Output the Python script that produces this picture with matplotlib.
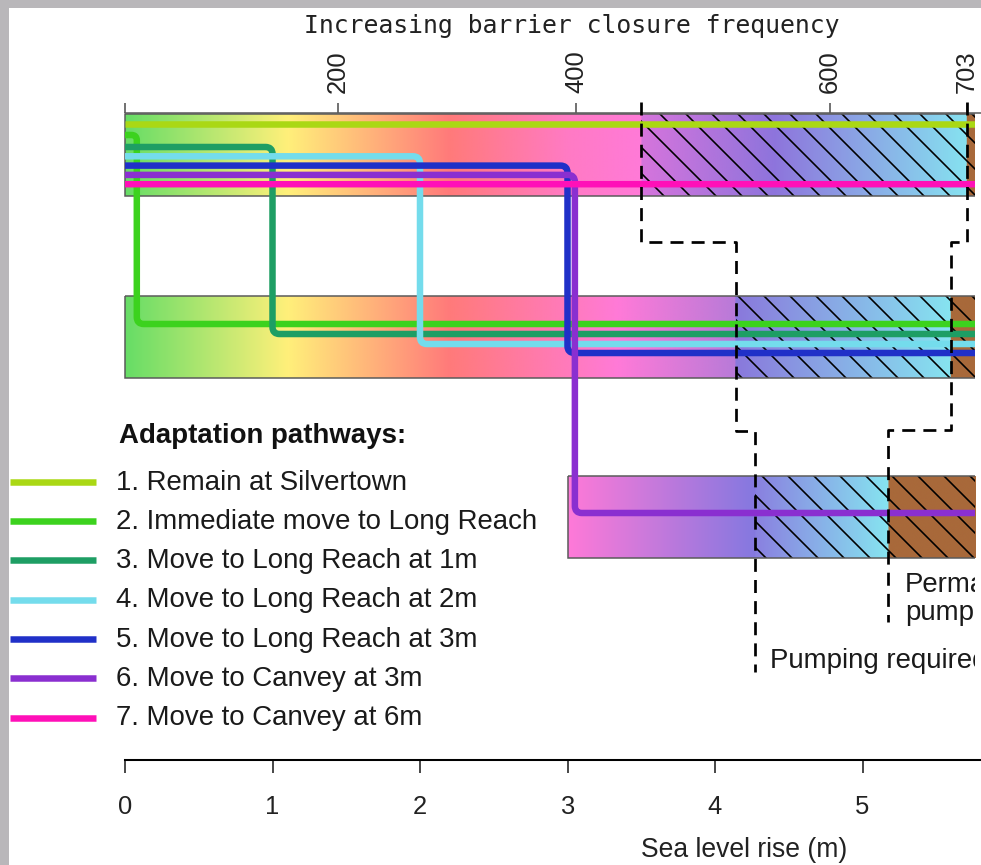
import numpy as np
import matplotlib
matplotlib.use('Agg')
import matplotlib.pyplot as plt
from matplotlib.patches import Rectangle, PathPatch
from matplotlib.path import Path
from matplotlib.colors import to_rgb

# ---------------- data ----------------
pathway_labels = ['1. Remain at Silvertown',
                  '2. Immediate move to Long Reach',
                  '3. Move to Long Reach at 1m',
                  '4. Move to Long Reach at 2m',
                  '5. Move to Long Reach at 3m',
                  '6. Move to Canvey at 3m',
                  '7. Move to Canvey at 6m']
pathway_colors = ['#aad814', '#3cd21e', '#1e9e64', '#74dcec',
                  '#2030c8', '#8a2fd0', '#ff10b8']
switch_level = [np.nan, 0.08, 1.0, 2.0, 3.0, 3.05, 6.0]   # sea level rise (m) of move
dest_box = [0, 1, 1, 1, 1, 2, 2]                            # 0 Silvertown, 1 Long Reach, 2 Canvey

box_names = ['Silvertown', 'Long Reach', 'Canvey']
box_start = [0.0, 0.0, 3.0]
pumping_start = [3.5, 4.14, 4.27]      # pumping required from (m)
permanent_start = [5.71, 5.60, 5.17]   # permanent pumping from (m)

grad_pos = [
    [0.0, 1.1, 2.2, 3.0, 3.5, 3.5, 4.4, 5.71],
    [0.0, 1.1, 2.2, 3.35, 4.14, 4.14, 5.60],
    [3.0, 4.27, 4.27, 5.17],
]
grad_col = [
    ['#66dd66', '#fff07a', '#ff7a7a', '#ff7ac4', '#ff7ad8', '#d674dc', '#8e74dc', '#86e2f0'],
    ['#66dd66', '#fff07a', '#ff7a7a', '#ff7ad8', '#b87ad8', '#8a78dc', '#86e4f0'],
    ['#ff7ad8', '#8478e0', '#8a80e0', '#86e4f0'],
]
brown = '#a8693a'

sea_level_ticks = [0, 1, 2, 3, 4, 5]
closure_tick_pos = [0.0, 1.445, 3.06, 4.78, 5.71]
closure_tick_labels = ['', '200', '400', '600', '703']

# ---------------- layout ----------------
DPI = 78
W, H = 981, 865
PX_PER_M = 147.5
X0_PX = 125
AX_W = 975
X_END = 6.5

box_top = [114, 296, 476]
box_h = 82
origin_lane = [10, 21, 33, 42.3, 51.6, 60.9, 70.2]
dest_lane = [10, 28, 38, 48, 57, 37, 45]

plt.rcParams['font.family'] = ['Liberation Sans', 'DejaVu Sans']
plt.rcParams['hatch.linewidth'] = 1.5
plt.rcParams['hatch.color'] = 'black'

fig = plt.figure(figsize=(W / DPI, H / DPI), dpi=DPI, facecolor='#b9b7ba')
fig.add_artist(Rectangle((9 / W, 0), 1, (H - 8) / H, transform=fig.transFigure,
                         facecolor='white', edgecolor='none', zorder=-5))

ax = fig.add_axes([0, 0, AX_W / W, 1])
ax.set_facecolor('none')

# boxes with gradient, hatching and outline
for i in range(3):
    x0 = box_start[i]
    pos = list(grad_pos[i]) + [permanent_start[i], X_END]
    cols = list(grad_col[i]) + [brown, brown]
    xs = np.linspace(x0, X_END, 1500)
    rgb = np.array([to_rgb(c) for c in cols])
    img = np.stack([np.interp(xs, pos, rgb[:, k]) for k in range(3)], axis=-1)[None, :, :]
    yt, yb = box_top[i], box_top[i] + box_h
    ax.imshow(img, extent=(x0, X_END, yb, yt), aspect='auto',
              interpolation='bilinear', zorder=1)
    ax.add_patch(Rectangle((pumping_start[i], yt), X_END - pumping_start[i], box_h,
                           facecolor='none', edgecolor='black', lw=0,
                           hatch='\\', zorder=2))
    ax.add_patch(Rectangle((x0, yt), X_END - x0, box_h, fill=False,
                           edgecolor='#5a5a5a', lw=1.4, zorder=3))

ax.set_xlim(-X0_PX / PX_PER_M, (AX_W - X0_PX) / PX_PER_M)
ax.set_ylim(H, 0)


def rounded(points, r_px=7.0):
    P = ax.transData.transform(np.asarray(points, float))
    verts = [P[0]]
    codes = [Path.MOVETO]
    for k in range(1, len(P) - 1):
        a, b, c = P[k - 1], P[k], P[k + 1]
        d1 = (b - a) / np.linalg.norm(b - a)
        d2 = (c - b) / np.linalg.norm(c - b)
        r = min(r_px, np.linalg.norm(b - a) * 0.45, np.linalg.norm(c - b) * 0.45)
        verts += [b - d1 * r, b, b + d2 * r]
        codes += [Path.LINETO, Path.CURVE3, Path.CURVE3]
    verts.append(P[-1])
    codes.append(Path.LINETO)
    V = ax.transData.inverted().transform(np.array(verts))
    return Path(V, codes)


# pathways
for i in range(len(pathway_labels)):
    y0 = box_top[0] + origin_lane[i]
    y1 = box_top[dest_box[i]] + dest_lane[i]
    s = switch_level[i]
    if np.isnan(s):
        pts = [(0, y0), (X_END, y0)]
    else:
        pts = [(0, y0), (s, y0), (s, y1), (X_END, y1)]
    ax.add_patch(PathPatch(rounded(pts), fill=False, edgecolor=pathway_colors[i],
                           lw=6, capstyle='butt', joinstyle='round', zorder=4 + i * 0.1))

# tipping-point dashed lines
conn_y_pump = [102, 242, 431, 672]
conn_y_perm = [102, 242, 430, 622]
for starts, cy in ((pumping_start, conn_y_pump), (permanent_start, conn_y_perm)):
    xs, ys = [], []
    for k in range(3):
        xs += [starts[k], starts[k]]
        ys += [cy[k], cy[k + 1]]
    ax.plot(xs, ys, color='black', lw=2.5, linestyle=(0, (4.8, 3.0)), zorder=6)

ax.text(4.373, 668, 'Pumping required', fontsize=25.5, ha='left', va='baseline',
        clip_on=True, zorder=7, color='#1a1a1a')
ax.text(5.288, 592, 'Permanent', fontsize=25.5, ha='left', va='baseline',
        clip_on=True, zorder=7, color='#1a1a1a')
ax.text(5.288, 620, 'pumping', fontsize=25.5, ha='left', va='baseline',
        clip_on=True, zorder=7, color='#1a1a1a')

# legend
ax.text(-0.04, 443, 'Adaptation pathways:', fontsize=25.5, fontweight='bold',
        ha='left', va='baseline', color='#111111')
for i, (lab, col) in enumerate(zip(pathway_labels, pathway_colors)):
    yl = 481.7 + i * 39.3
    ax.plot([-0.78, -0.197], [yl, yl], color=col, lw=6, solid_capstyle='butt', zorder=4)
    ax.text(-0.06, yl + 7.8, lab, fontsize=25.5, ha='left', va='baseline', color='#1a1a1a')

# bottom axis: sea level rise
for side in ('left', 'right', 'top'):
    ax.spines[side].set_visible(False)
ax.spines['bottom'].set_position(('data', 760))
ax.spines['bottom'].set_bounds(0, X_END)
ax.spines['bottom'].set_linewidth(1.9)
ax.set_xticks(sea_level_ticks)
ax.set_xticklabels([str(t) for t in sea_level_ticks])
ax.tick_params(axis='x', direction='out', length=12, width=1.5, pad=20,
               labelsize=23.5, colors='#222222')
ax.tick_params(axis='y', left=False, labelleft=False)
ax.text(4.2, 857, 'Sea level rise (m)', fontsize=24.5, ha='center', va='baseline',
        color='#222222')

# top axis: barrier closure frequency
sec = ax.secondary_xaxis((H - 113) / H)
sec.set_xticks(closure_tick_pos)
sec.set_xticklabels(closure_tick_labels)
sec.tick_params(axis='x', direction='out', length=9, width=1.5, pad=9,
                labelsize=23.5, labelrotation=90, color='#555555', labelcolor='#222222')
sec.spines['top'].set_bounds(0, X_END)
sec.spines['top'].set_color('#5a5a5a')
sec.spines['top'].set_linewidth(1.4)
ax.text(3.03, 33, 'Increasing barrier closure frequency', fontsize=22.8,
        family='DejaVu Sans Mono', ha='center', va='baseline', color='#222222')

fig.savefig('out.png', dpi=DPI, facecolor=fig.get_facecolor())
